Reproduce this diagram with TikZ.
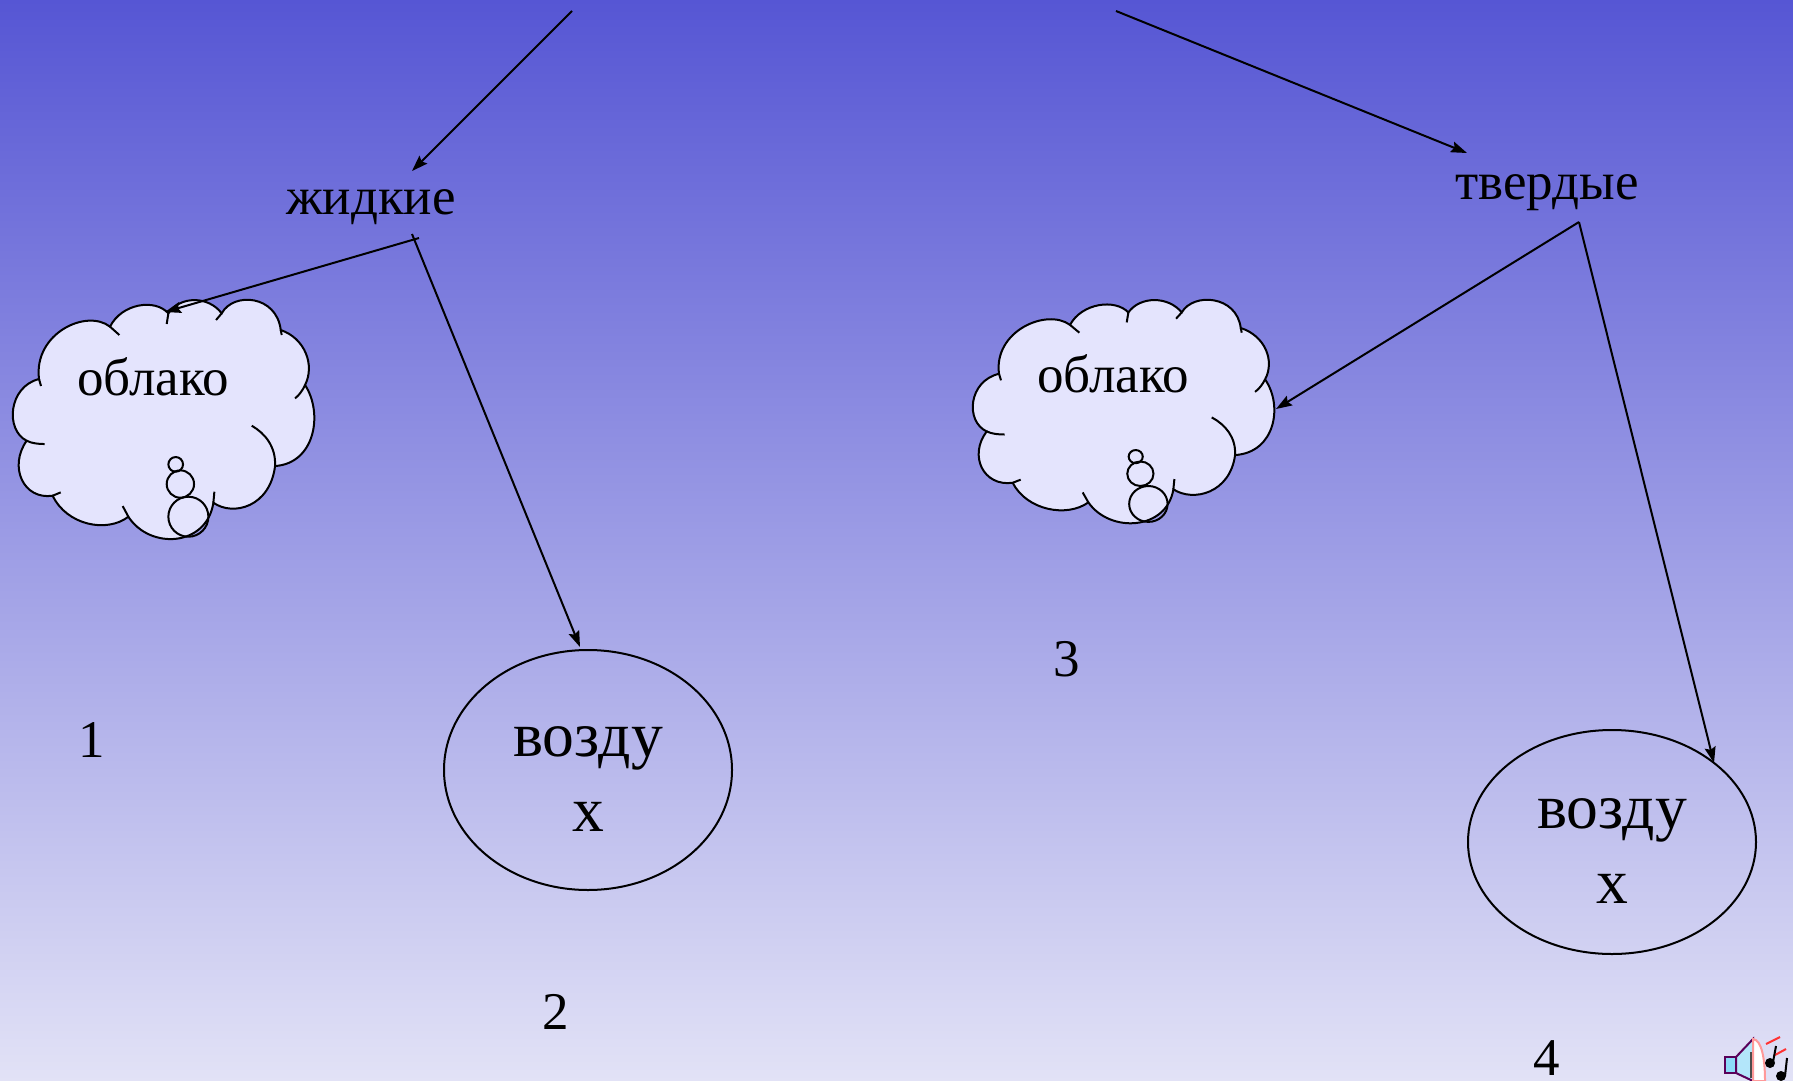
\documentclass[tikz,border=0pt]{standalone}
\usepackage{fontspec}
\setmainfont{Liberation Serif}
\usetikzlibrary{shapes.geometric,arrows.meta}
\definecolor{bgtop}{RGB}{86,86,212}
\definecolor{bgbottom}{RGB}{226,226,246}
\definecolor{cloudfill}{RGB}{228,228,253}

\begin{document}
\begin{tikzpicture}[x=0.5pt, y=-0.5pt,
        line width=1pt,
        >={Stealth[length=8pt,width=5.5pt,inset=1.2pt]},
        word/.style={anchor=base, inner sep=0pt, font=\fontsize{26.5}{30}\selectfont},
        numeral/.style={anchor=base, inner sep=0pt, font=\fontsize{26.5}{30}\selectfont},
        airbubble/.style={draw, ellipse, minimum width=144pt, inner sep=0pt},
        airword/.style={align=center, inner sep=0pt, font=\fontsize{31.8}{37.5}\selectfont}
    ]
        \useasboundingbox (0,0) rectangle (1793,1081);
        \shade [top color=bgtop, bottom color=bgbottom] (0,0) rectangle (1793,1081);

        % the two clouds
        \foreach \cx/\cy/\ys/\sy/\my/\by/\rs in {0/280/1/553/612/710/1, 960/281.3/0.934/563/618/715/0.96} {
            \begin{scope}[shift={(\cx,\cy)}, x=0.1667pt, y=-0.1667pt*\ys]
                \draw [fill=cloudfill] (117,297)
                    .. controls (100,160) and (260,85) .. (330,140)
                    .. controls (365,70) and (465,55) .. (505,100)
                    .. controls (540,47) and (625,47) .. (665,100)
                    .. controls (700,35) and (830,45) .. (842,150)
                    .. controls (915,175) and (945,255) .. (915,315)
                    .. controls (970,400) and (945,550) .. (825,558)
                    .. controls (810,680) and (700,710) .. (640,668)
                    .. controls (620,800) and (450,810) .. (385,710)
                    .. controls (320,760) and (200,735) .. (158,647)
                    .. controls (70,660) and (25,560) .. (80,482)
                    .. controls (15,450) and (25,320) .. (117,297)
                    -- cycle;
                \draw (330,140) -- (358,165);
                \draw (505,100) -- (500,132);
                \draw (665,100) -- (648,120);
                \draw (842,150) -- (845,165);
                \draw (915,315) .. controls (908,330) and (898,345) .. (885,355);
                \draw (825,558) .. controls (828,500) and (795,460) .. (755,437);
                \draw (640,668) -- (643,635);
                \draw (385,710) -- (368,678);
                \draw (158,647) -- (182,637);
                \draw (80,482) .. controls (95,490) and (115,492) .. (134,492);
                \draw (117,297) -- (123,318);
                \draw (527,\sy) circle [radius=22*\rs];
                \draw (541,\my) circle [radius=41*\rs];
                \draw (565,\by) circle [radius=60*\rs];
            \end{scope}
        }

        \node [word] (liquid) at (371,214) {жидкие};
        \node [word] (solid) at (1547,199) {твердые};
        \node [word] (cloudl) at (153,395) {облако};
        \node [word] (cloudr) at (1113,392) {облако};
        \node [airbubble, minimum height=120pt] (airl) at (588,770) {};
        \node [airbubble, minimum height=112pt] (airr) at (1612,842) {};
        \node [airword] (airltext) at ([yshift=-4.7pt]airl.center) {возду\\х};
        \node [airword] (airrtext) at ([yshift=-4.7pt]airr.center) {возду\\х};

        \node [numeral] (one) at (92,757) {1};
        \node [numeral] (two) at (556,1029) {2};
        \node [numeral] (three) at (1067,676) {3};
        \node [numeral] (four) at (1547,1075) {4};

        \coordinate (srcl) at (572,11);
        \coordinate (srcr) at (1116,11);
        \coordinate (liquidin) at (412,171);
        \coordinate (solidin) at (1467,153);
        \coordinate (liquidout) at (419,238);
        \coordinate (liquidtick) at (412,234);
        \coordinate (solidout) at (1579,222);
        \coordinate (cloudlin) at (165,312);
        \coordinate (cloudrin) at (1276,409);
        \coordinate (airlin) at (580,647);
        \coordinate (airrin) at (1714,763);

        \draw [->] (srcl) -- (liquidin);
        \draw [->] (srcr) -- (solidin);
        \draw [->] (liquidout) -- (cloudlin);
        \draw [->] (liquidtick) -- (airlin);
        \draw [->] (solidout) -- (cloudrin);
        \draw [->] (solidout) -- (airrin);

        % speaker icon
        \fill [cyan!45, draw=violet!70!black] (1725,1057) rectangle (1736,1073);
        \fill [cyan!30, draw=violet!70!black] (1736,1057) -- (1753,1039) -- (1753,1081) -- (1736,1073) -- cycle;
        \fill [white, draw=red!40] (1753,1039) .. controls (1762,1040) and (1765,1060) .. (1765,1081) -- (1753,1081) -- cycle;
        \draw [line width=1.2pt, black!70] (1751,1052) -- (1751,1078);
        \draw [line width=1pt, red!80] (1766,1044) -- (1780,1037);
        \draw [line width=1pt, red!80] (1775,1055) -- (1786,1049);
        \fill [black] (1770,1063) circle [radius=5];
        \fill [black] (1781,1076) circle [radius=5];
        \draw [line width=1pt, black] (1773,1062) -- (1776,1046);
        \draw [line width=1pt, black] (1785,1076) -- (1787,1058);
    \end{tikzpicture}
\end{document}
